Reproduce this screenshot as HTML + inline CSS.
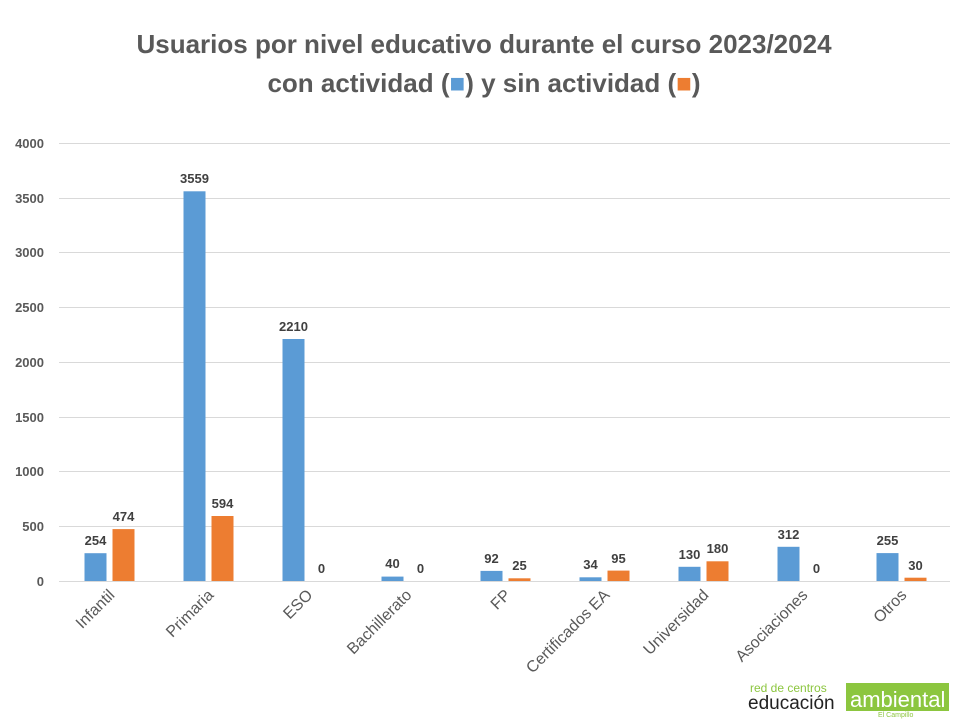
<!DOCTYPE html>
<html><head><meta charset="utf-8"><style>body{margin:0;background:#fff}svg{display:block;font-family:"Liberation Sans",sans-serif}</style></head><body>
<svg width="960" height="720" viewBox="0 0 960 720">
<text x="484" y="53" text-anchor="middle" font-size="26" font-weight="bold" fill="#595959">Usuarios por nivel educativo durante el curso 2023/2024</text>
<text x="484" y="92" text-anchor="middle" font-size="26" font-weight="bold" fill="#595959">con actividad (<tspan fill="#5b9bd5">■</tspan>) y sin actividad (<tspan fill="#ed7d31">■</tspan>)</text>
<g stroke="#d9d9d9" stroke-width="1">
<line x1="59" x2="950" y1="143.5" y2="143.5"/><line x1="59" x2="950" y1="198.5" y2="198.5"/><line x1="59" x2="950" y1="252.5" y2="252.5"/><line x1="59" x2="950" y1="307.5" y2="307.5"/><line x1="59" x2="950" y1="362.5" y2="362.5"/><line x1="59" x2="950" y1="417.5" y2="417.5"/><line x1="59" x2="950" y1="471.5" y2="471.5"/><line x1="59" x2="950" y1="526.5" y2="526.5"/><line x1="59" x2="950" y1="581.5" y2="581.5"/>
</g>
<g font-size="13" font-weight="bold" fill="#595959" text-anchor="end">
<text x="44" y="148">4000</text><text x="44" y="203">3500</text><text x="44" y="257">3000</text><text x="44" y="312">2500</text><text x="44" y="367">2000</text><text x="44" y="422">1500</text><text x="44" y="476">1000</text><text x="44" y="531">500</text><text x="44" y="586">0</text>
</g>
<g fill="#5b9bd5">
<rect x="84.5" y="553.2" width="22" height="27.8"/>
<rect x="183.5" y="191.3" width="22" height="389.7"/>
<rect x="282.5" y="339" width="22" height="242"/>
<rect x="381.5" y="576.6" width="22" height="4.4"/>
<rect x="480.5" y="570.9" width="22" height="10.1"/>
<rect x="579.5" y="577.3" width="22" height="3.7"/>
<rect x="678.5" y="566.8" width="22" height="14.2"/>
<rect x="777.5" y="546.8" width="22" height="34.2"/>
<rect x="876.5" y="553.1" width="22" height="27.9"/>
</g>
<g fill="#ed7d31">
<rect x="112.5" y="529.1" width="22" height="51.9"/>
<rect x="211.5" y="516" width="22" height="65"/>
<rect x="508.5" y="578.3" width="22" height="2.7"/>
<rect x="607.5" y="570.6" width="22" height="10.4"/>
<rect x="706.5" y="561.3" width="22" height="19.7"/>
<rect x="904.5" y="577.7" width="22" height="3.3"/>
</g>
<g font-size="13" font-weight="bold" fill="#404040" text-anchor="middle">
<text x="95.5" y="545">254</text><text x="194.5" y="183">3559</text><text x="293.5" y="331">2210</text><text x="392.5" y="568">40</text><text x="491.5" y="563">92</text><text x="590.5" y="569">34</text><text x="689.5" y="559">130</text><text x="788.5" y="539">312</text><text x="887.5" y="545">255</text>
<text x="123.5" y="521">474</text><text x="222.5" y="508">594</text><text x="321.5" y="573">0</text><text x="420.5" y="573">0</text><text x="519.5" y="570">25</text><text x="618.5" y="563">95</text><text x="717.5" y="553">180</text><text x="816.5" y="573">0</text><text x="915.5" y="570">30</text>
</g>
<g font-size="16" fill="#595959" text-anchor="end">
<text transform="translate(115.5,596) rotate(-45)">Infantil</text>
<text transform="translate(214.5,596) rotate(-45)">Primaria</text>
<text transform="translate(313.5,596) rotate(-45)">ESO</text>
<text transform="translate(412.5,596) rotate(-45)">Bachillerato</text>
<text transform="translate(511.5,596) rotate(-45)">FP</text>
<text transform="translate(610.5,596) rotate(-45)">Certificados EA</text>
<text transform="translate(709.5,596) rotate(-45)">Universidad</text>
<text transform="translate(808.5,596) rotate(-45)">Asociaciones</text>
<text transform="translate(907.5,596) rotate(-45)">Otros</text>
</g>
<text x="750" y="692" font-size="12" fill="#8cc63f">red de centros</text>
<text x="748" y="709" font-size="19" fill="#222">educación</text>
<rect x="846" y="683" width="103" height="28" fill="#8cc63f"/>
<text x="850" y="707" font-size="22" fill="#fff">ambiental</text>
<text x="878" y="717" font-size="7" fill="#8cc63f">El Campillo</text>
</svg></body></html>
